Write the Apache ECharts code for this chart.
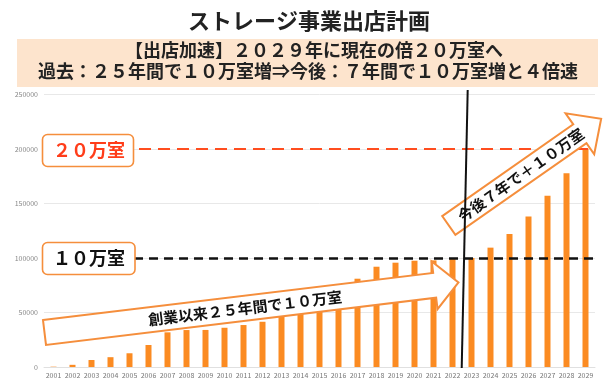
<!DOCTYPE html>
<html>
<head>
<meta charset="utf-8">
<script src="https://cdn.jsdelivr.net/npm/echarts@6/dist/echarts.min.js"></script>
<style>html,body{margin:0;padding:0;background:#fff;}#c{width:607px;height:390px;}</style>
</head>
<body>
<div id="c"></div>
<script>
const years = ['2001','2002','2003','2004','2005','2006','2007','2008','2009','2010','2011','2012','2013','2014','2015','2016','2017','2018','2019','2020','2021','2022','2023','2024','2025','2026','2027','2028','2029'];
const rooms = [300, 2000, 6400, 9000, 12600, 20200, 31800, 33900, 34000, 36000, 38500, 41500, 46000, 48600, 50700, 53000, 81000, 92000, 95700, 97500, 97800, 99000, 100000, 109500, 122000, 138000, 157000, 177700, 200500];
const yTicks = [0, 50000, 100000, 150000, 200000, 250000];
const refLevels = [200000, 100000];
const titleText = 'ストレージ事業出店計画';
const subLine1 = '【出店加速】２０２９年に現在の倍２０万室へ';
const subLine2 = '過去：２５年間で１０万室増⇒今後：７年間で１０万室増と４倍速';
const box20Text = '２０万室';
const box10Text = '１０万室';
const arrow1Text = '創業以来２５年間で１０万室';
const arrow2Text = '今後７年で＋１０万室';

const FONT = '"Noto Sans CJK JP", "Noto Sans", sans-serif';
const ORANGE = '#f58e3c';

function arrow(x, y, deg, L, Ls, h, H, label, tx, fs) {
  return {
    type: 'group', x: x, y: y, rotation: deg * Math.PI / 180, z: 100,
    children: [
      { type: 'polygon', z: 100,
        shape: { points: [[0,-h],[Ls,-h],[Ls,-H],[L,0],[Ls,H],[Ls,h],[0,h]] },
        style: { fill: '#fff', stroke: ORANGE, lineWidth: 2 } },
      { type: 'text', x: tx, y: 0, z: 101,
        style: { text: label, fill: '#111', font: 'bold ' + fs + 'px ' + FONT, align: 'center', verticalAlign: 'middle' } }
    ]
  };
}

const chart = echarts.init(document.getElementById('c'));
chart.setOption({
  animation: false,
  backgroundColor: '#fff',
  grid: { left: 44, right: 12, top: 94.5, bottom: 23, containLabel: false },
  xAxis: {
    type: 'category', data: years,
    axisLine: { show: true, lineStyle: { color: '#e0e0e0' } },
    axisTick: { show: false },
    axisLabel: { interval: 0, color: '#777', fontSize: 7, margin: 5, fontFamily: FONT }
  },
  yAxis: {
    type: 'value', min: yTicks[0], max: yTicks[yTicks.length - 1], interval: yTicks[1] - yTicks[0],
    axisLine: { show: false }, axisTick: { show: false },
    axisLabel: { color: '#888', fontSize: 7, margin: 6, fontFamily: FONT, formatter: function (v) { return String(v); } },
    splitLine: { lineStyle: { color: '#e8e8e8', width: 1 } }
  },
  series: [{
    type: 'bar', data: rooms, barWidth: 6,
    itemStyle: { color: '#fb8b22' },
    markLine: {
      silent: true, symbol: 'none', label: { show: false },
      data: [
        { yAxis: refLevels[0], lineStyle: { color: '#ff4d1f', width: 2, type: [12, 7] } },
        { yAxis: refLevels[1], lineStyle: { color: '#111', width: 2.5, type: [9, 6] } }
      ]
    }
  }],
  graphic: [
    { type: 'text', x: 309, y: 21, z: 100,
      style: { text: titleText, fill: '#222', font: 'bold 22px ' + FONT, align: 'center', verticalAlign: 'middle' } },
    { type: 'rect', z: 90, shape: { x: 17, y: 39, width: 581, height: 48 }, style: { fill: '#fde4cd' } },
    { type: 'text', x: 314, y: 50.5, z: 100,
      style: { text: subLine1, fill: '#222', font: 'bold 18px ' + FONT, align: 'center', verticalAlign: 'middle' } },
    { type: 'text', x: 308, y: 71.5, z: 100,
      style: { text: subLine2, fill: '#222', font: 'bold 18px ' + FONT, align: 'center', verticalAlign: 'middle' } },
    { type: 'rect', z: 100, shape: { x: 42.5, y: 134.5, width: 91, height: 32, r: 5 },
      style: { fill: '#fff', stroke: ORANGE, lineWidth: 1.6 } },
    { type: 'text', x: 89, y: 150.5, z: 101,
      style: { text: box20Text, fill: '#ff3d1a', font: 'bold 18px ' + FONT, align: 'center', verticalAlign: 'middle' } },
    { type: 'rect', z: 100, shape: { x: 42.5, y: 242.5, width: 92.5, height: 32, r: 5 },
      style: { fill: '#fff', stroke: ORANGE, lineWidth: 1.6 } },
    { type: 'text', x: 89, y: 258.5, z: 101,
      style: { text: box10Text, fill: '#111', font: 'bold 18px ' + FONT, align: 'center', verticalAlign: 'middle' } },
    arrow(44.5, 332.5, 6.9, 417, 393, 12.5, 24, arrow1Text, 202, 15),
    arrow(448.8, 225.5, 35, 186, 160, 11.5, 25, arrow2Text, 88, 15),
    { type: 'line', z: 120, shape: { x1: 467.7, y1: 90, x2: 461.7, y2: 368 },
      style: { stroke: '#111', lineWidth: 2 } }
  ]
});
</script>
</body>
</html>
